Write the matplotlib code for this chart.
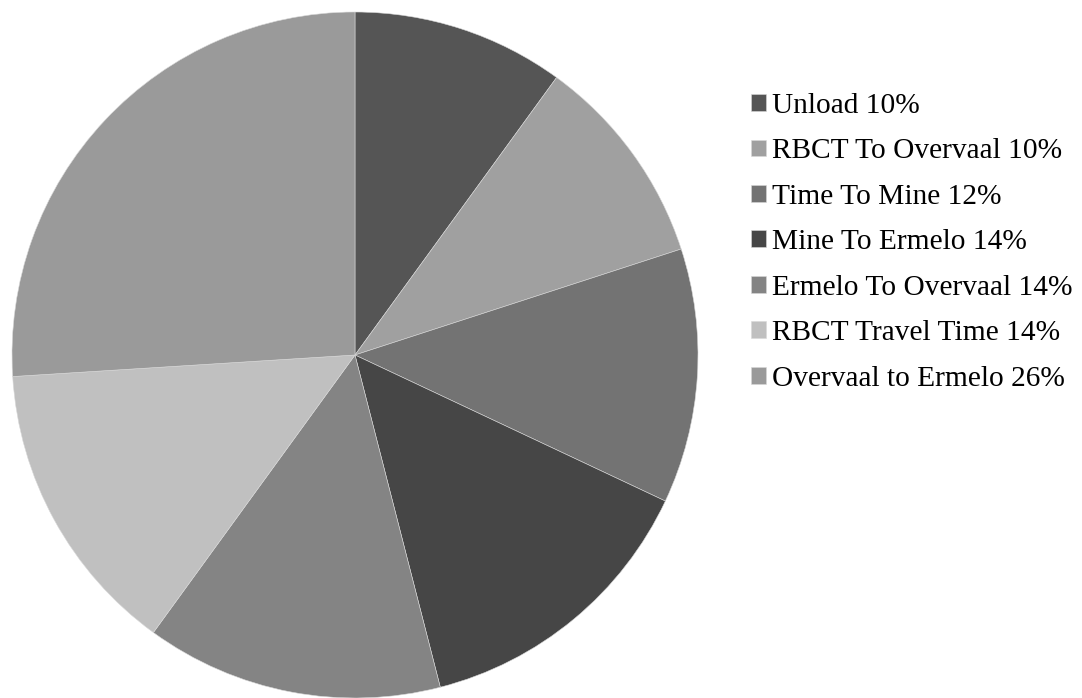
import matplotlib.pyplot as plt

labels = ["Unload", "RBCT To Overvaal", "Time To Mine", "Mine To Ermelo",
          "Ermelo To Overvaal", "RBCT Travel Time", "Overvaal to Ermelo"]
percents = [10, 10, 12, 14, 14, 14, 26]
colors = ["#555555", "#a0a0a0", "#737373", "#464646",
          "#848484", "#c0c0c0", "#9a9a9a"]

W, H = 1082, 698
fig = plt.figure(figsize=(W / 100, H / 100), dpi=100)

# pie centred at (355, 355) px with radius ~343 px
cx, cy, r = 355, 355, 343
ax = fig.add_axes([(cx - r) / W, (H - cy - r) / H, 2 * r / W, 2 * r / H])
wedges, _ = ax.pie(percents, colors=colors, startangle=90, counterclock=False,
                   radius=1, wedgeprops=dict(edgecolor="#d8d8d8", linewidth=0.4))
ax.set_xlim(-1, 1)
ax.set_ylim(-1, 1)
ax.set_aspect("equal")
ax.axis("off")

leg_labels = ["%s %d%%" % (l, p) for l, p in zip(labels, percents)]
fig.legend(wedges, leg_labels, loc="upper left", bbox_to_anchor=(751 / W, 1 - 93 / H),
           frameon=False, prop={"family": "Liberation Serif", "size": 21.2},
           handlelength=0.5, handleheight=0.5, handletextpad=0.2,
           labelspacing=0.66, borderpad=0, borderaxespad=0)

fig.savefig("out.png", dpi=100)
